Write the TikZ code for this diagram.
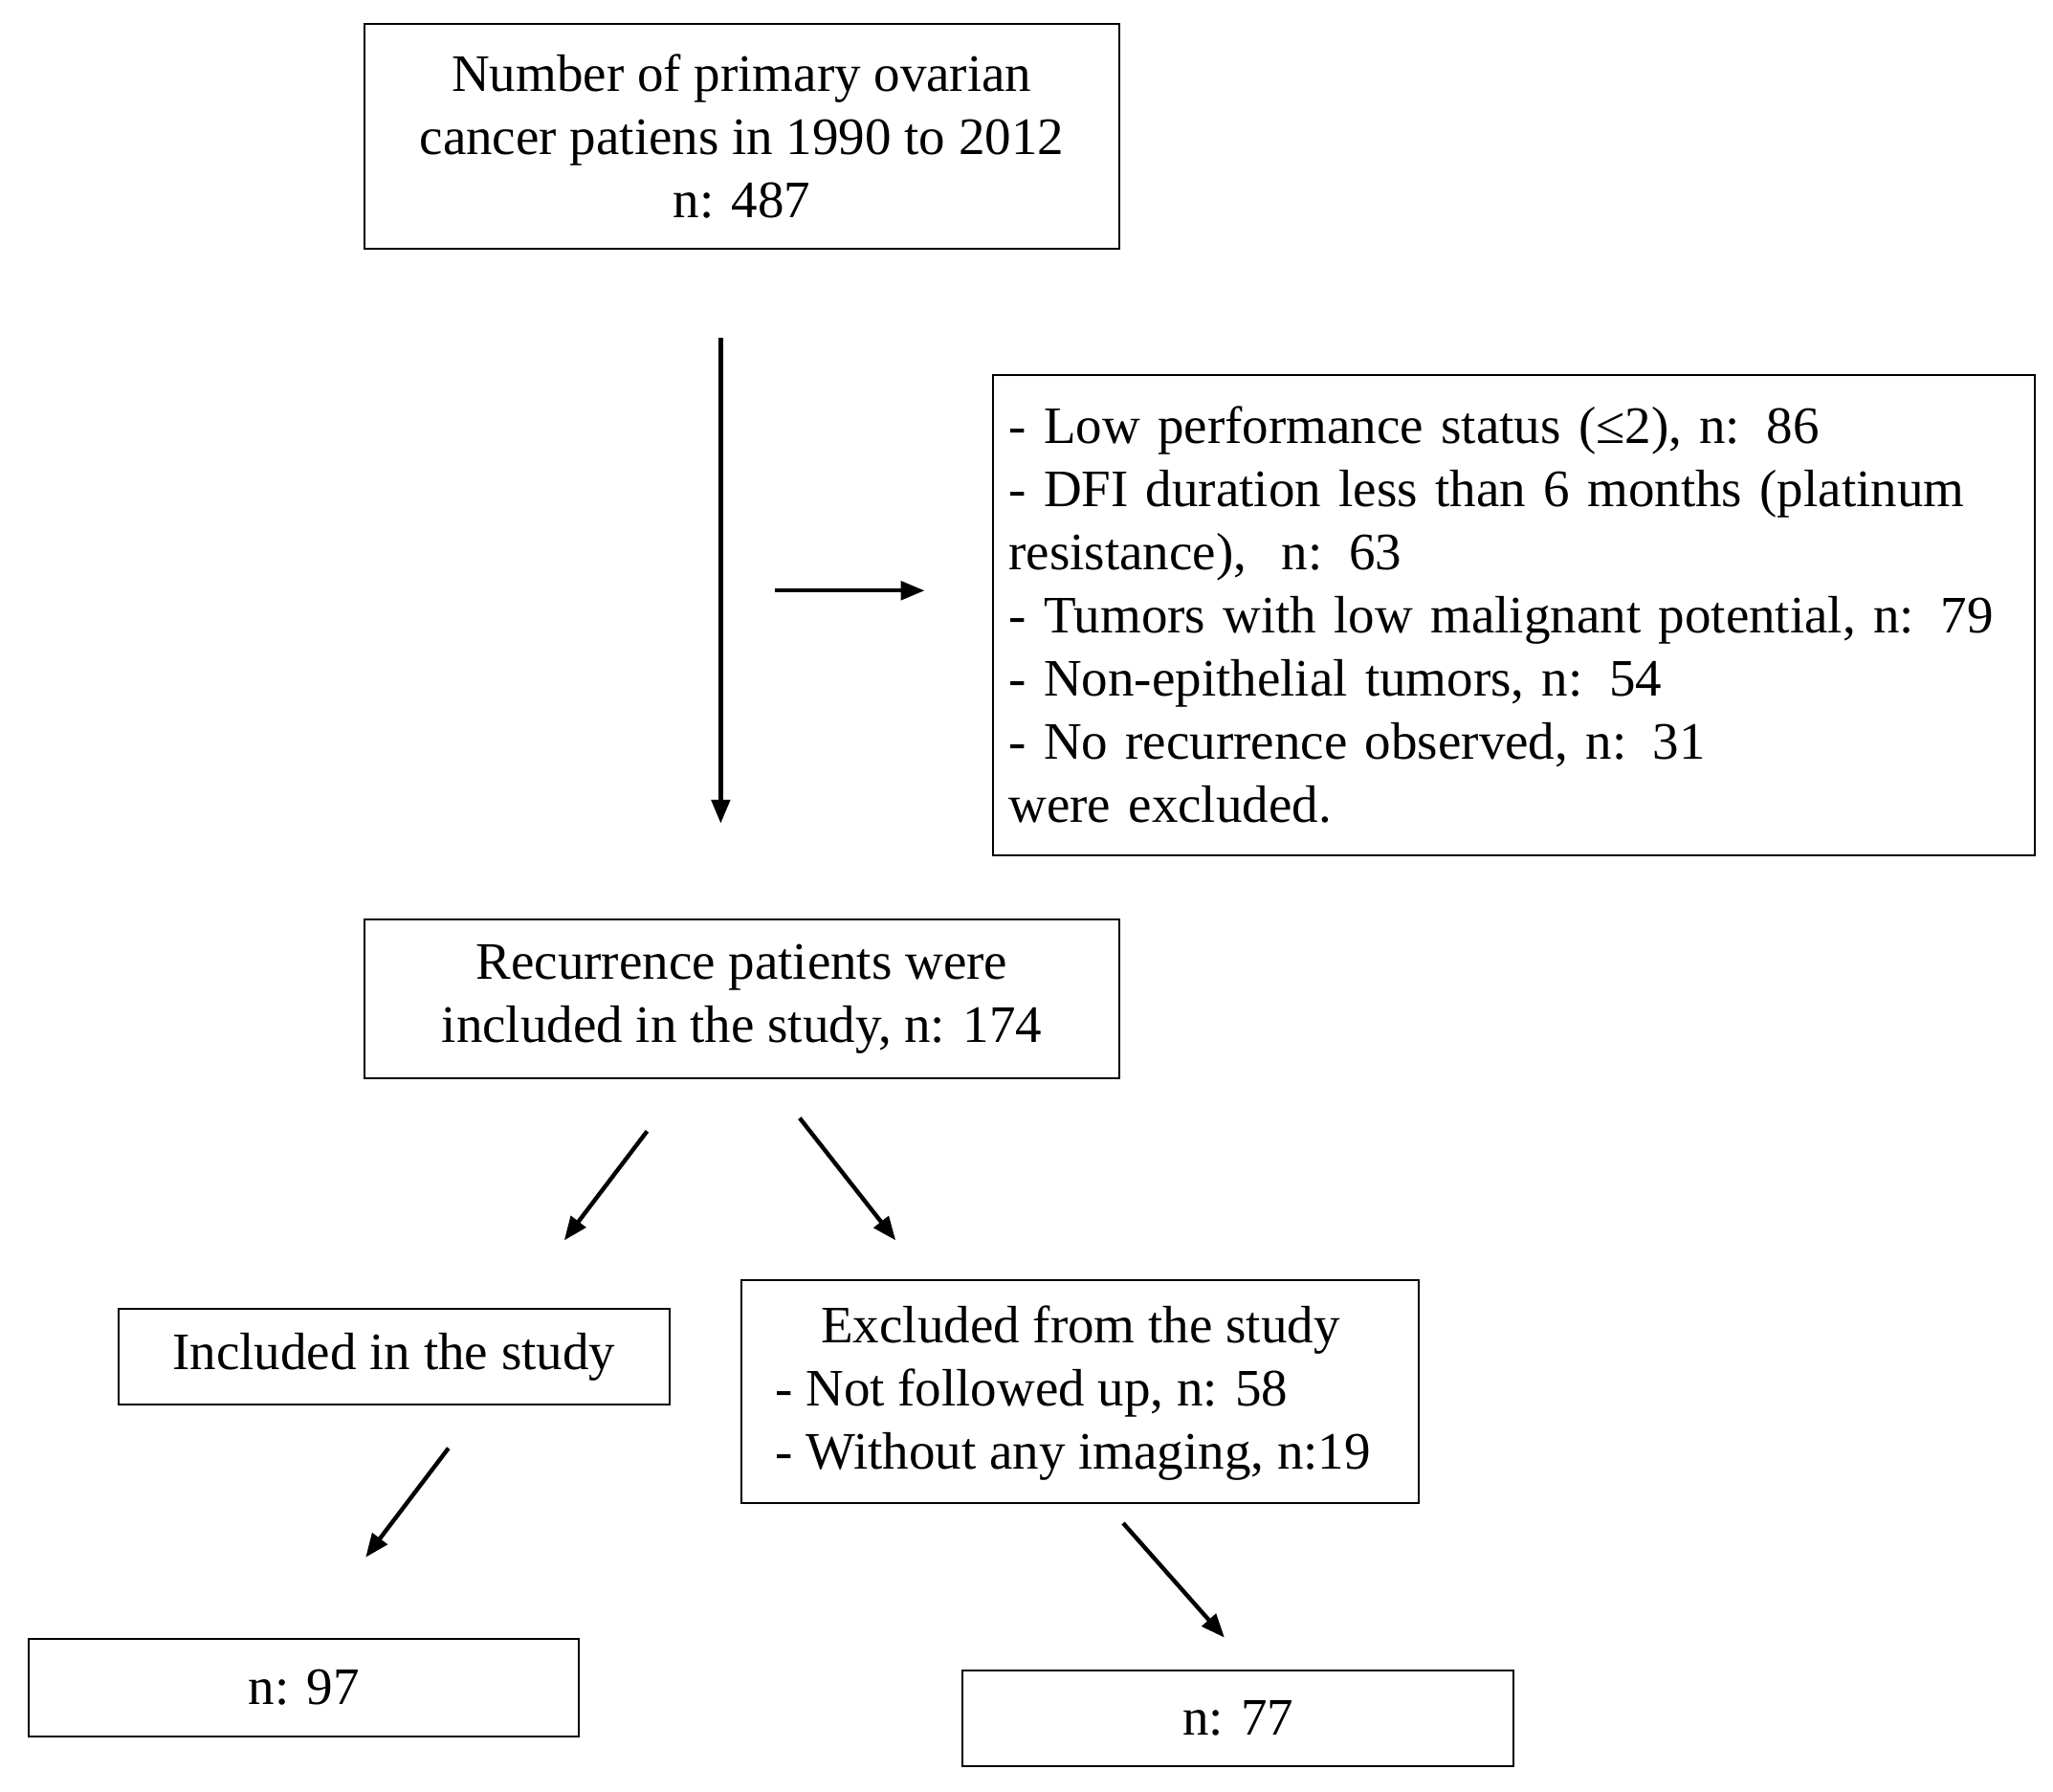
\documentclass[tikz,border=0pt]{standalone}
\usepackage{fontspec}
\setmainfont{Liberation Serif}
\usetikzlibrary{arrows.meta}
\begin{document}
\fontsize{20pt}{24pt}\selectfont
\begin{tikzpicture}[x=0.5pt,y=-0.5pt,
  box/.style={draw,line width=0.8pt,inner sep=0pt,align=center,font=\fontsize{20pt}{24pt}\selectfont},
  arr/.style={line width=1.6pt,-{Triangle[length=9pt,width=7pt]}}]
\useasboundingbox (0,0) rectangle (1561,1362);
\node[box,minimum width=287pt,minimum height=85.5pt] (b1) at (564,103.5) {Number of primary ovarian\\cancer patiens in 1990 to 2012\\n: 487};
\node[box,minimum width=396pt,minimum height=182.5pt,text width=384pt,align=left] (b2) at (1151,467.5) {- Low performance status (≤2), n: 86\\- DFI duration less than 6 months (platinum\\resistance),\ \ n: 63\\- Tumors with low malignant potential, n: 79\\- Non-epithelial tumors, n: 54\\- No recurrence observed, n: 31\\were excluded.};
\node[box,minimum width=287pt,minimum height=60.5pt] (b3) at (564,759.5) {Recurrence patients were\\included in the study, n: 174};
\node[box,minimum width=209.5pt,minimum height=36.5pt] (b4) at (299.5,1031.5) {Included in the study};
\node[box,minimum width=257.5pt,minimum height=85pt] (b5) at (821.5,1058) {};
\node[font=\fontsize{20pt}{24pt}\selectfont] (t5) at (821.5,1011) {Excluded from the study};
\node[anchor=west,align=left,inner sep=0pt,font=\fontsize{20pt}{24pt}\selectfont] (l5) at (589,1083) {- Not followed up, n: 58\\- Without any imaging, n:19};
\node[box,minimum width=209pt,minimum height=37pt] (b6) at (231,1283) {n: 97};
\node[box,minimum width=209.5pt,minimum height=36.5pt] (b7) at (941.5,1306.5) {n: 77};
\coordinate (a1s) at (548,257); \coordinate (a1e) at (548,626);
\coordinate (a2s) at (589,449); \coordinate (a2e) at (703,449);
\coordinate (a3s) at (492,860); \coordinate (a3e) at (429,943);
\coordinate (a4s) at (608,850); \coordinate (a4e) at (681,943);
\coordinate (a5s) at (341,1101); \coordinate (a5e) at (278,1184);
\coordinate (a6s) at (854,1158); \coordinate (a6e) at (931,1245);
\foreach \i in {1,...,6} \draw[arr] (a\i s) -- (a\i e);
\end{tikzpicture}
\end{document}
